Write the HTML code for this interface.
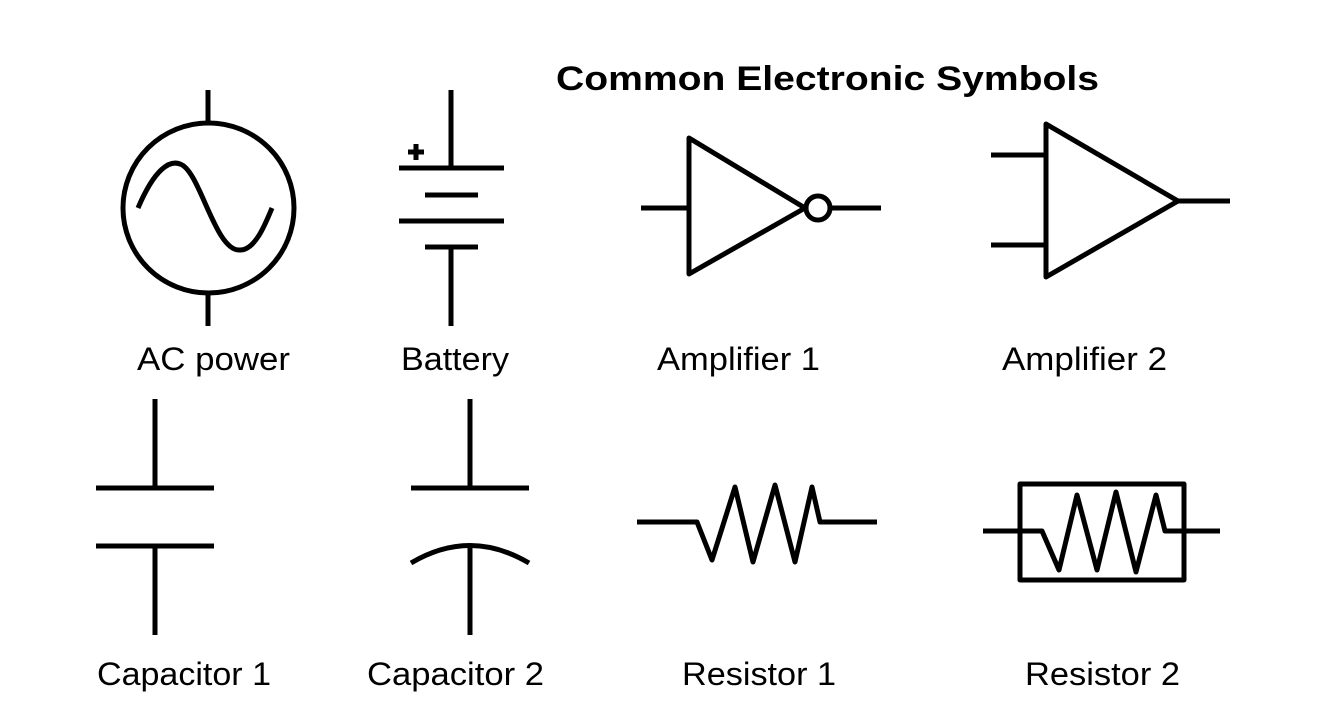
<!DOCTYPE html>
<html><head><meta charset="utf-8"><style>html,body{margin:0;padding:0;background:#fff}svg{display:block}</style></head><body>
<svg width="1334" height="710" viewBox="0 0 1334 710" xmlns="http://www.w3.org/2000/svg">
<g fill="none" stroke="#000" stroke-width="5" stroke-linejoin="round" stroke-linecap="butt">
<line x1="208" y1="90" x2="208" y2="123"/>
<line x1="208" y1="293" x2="208" y2="326"/>
<ellipse cx="208.5" cy="208" rx="85.5" ry="85"/>
<path d="M138,208 C155,168 170,160 180,164 C200,170 215,252 240,250 C255,250 265,225 272,208"/>
<line x1="451" y1="90" x2="451" y2="168"/>
<line x1="399" y1="168" x2="504" y2="168"/>
<line x1="425" y1="195" x2="478" y2="195"/>
<line x1="399" y1="221" x2="504" y2="221"/>
<line x1="425" y1="247" x2="478" y2="247"/>
<line x1="451" y1="247" x2="451" y2="326"/>
<line x1="408" y1="152" x2="424" y2="152"/>
<line x1="416" y1="144" x2="416" y2="160"/>
<line x1="641" y1="208" x2="689" y2="208"/>
<path d="M689,138 L689,274 L805,208 Z"/>
<circle cx="818" cy="208" r="12"/>
<line x1="830" y1="208" x2="881" y2="208"/>
<path d="M1046,124 L1046,277 L1178,201 Z"/>
<line x1="991" y1="155" x2="1046" y2="155"/>
<line x1="991" y1="245" x2="1046" y2="245"/>
<line x1="1178" y1="201" x2="1230" y2="201"/>
<line x1="155" y1="399" x2="155" y2="488"/>
<line x1="96" y1="488" x2="214" y2="488"/>
<line x1="96" y1="546" x2="214" y2="546"/>
<line x1="155" y1="546" x2="155" y2="635"/>
<line x1="470" y1="399" x2="470" y2="488"/>
<line x1="411" y1="488" x2="529" y2="488"/>
<path d="M411,563 Q470,528 529,563"/>
<line x1="470" y1="546" x2="470" y2="635"/>
<path d="M637,522 L697,522 L712,560 L735,487 L753,562 L775,485 L795,562 L812,487 L820,522 L877,522"/>
<rect x="1020" y="484" width="164" height="96"/>
<path d="M983,531 L1042,531 L1059,570 L1077,495 L1097,570 L1116,492 L1136,572 L1156,495 L1165,531 L1220,531"/>
</g>
<g font-family="Liberation Sans, Arial, sans-serif" font-size="32" fill="#000">
<text x="556" y="90" font-weight="bold" font-size="34" textLength="543" lengthAdjust="spacingAndGlyphs">Common Electronic Symbols</text>
<text x="137" y="370" textLength="153" lengthAdjust="spacingAndGlyphs">AC power</text>
<text x="401" y="370" textLength="108" lengthAdjust="spacingAndGlyphs">Battery</text>
<text x="657" y="370" textLength="163" lengthAdjust="spacingAndGlyphs">Amplifier 1</text>
<text x="1002" y="370" textLength="165" lengthAdjust="spacingAndGlyphs">Amplifier 2</text>
<text x="97" y="685" textLength="174" lengthAdjust="spacingAndGlyphs">Capacitor 1</text>
<text x="367" y="685" textLength="177" lengthAdjust="spacingAndGlyphs">Capacitor 2</text>
<text x="682" y="685" textLength="154" lengthAdjust="spacingAndGlyphs">Resistor 1</text>
<text x="1025" y="685" textLength="155" lengthAdjust="spacingAndGlyphs">Resistor 2</text>
</g>
</svg>
</body></html>
